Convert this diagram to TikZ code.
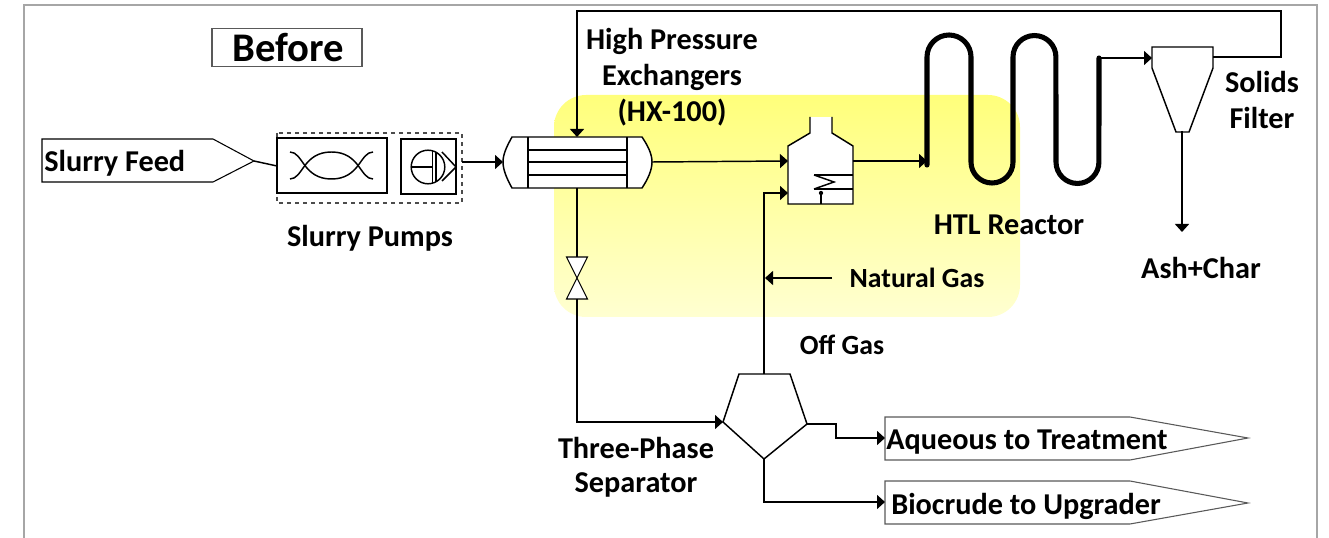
\documentclass[tikz,border=0pt]{standalone}
\usepackage{fontspec}
\setmainfont{Carlito}
\usetikzlibrary{arrows.meta}
\tikzset{
  px/.style={x=0.75pt,y=-0.75pt},
  equip/.style={draw=black,fill=white,line width=1.1pt,line join=miter},
  thinbox/.style={draw=black!65,fill=white,line width=0.8pt},
  stream/.style={draw=black,line width=1.1pt,-{Triangle[length=6pt,width=10.5pt]}},
  plainline/.style={draw=black,line width=1.1pt},
  lbl/.style={font=\fontsize{22.7}{26}\bfseries\selectfont,text=black,inner sep=0pt,align=center},
  lblsmall/.style={lbl,font=\fontsize{20.8}{24}\bfseries\selectfont},
  lblleft/.style={lbl,anchor=west},
  coil/.style={draw=black,line width=3.8pt,line cap=round}
}
\begin{document}
\begin{tikzpicture}[px]
\useasboundingbox (0,0) rectangle (1329,538);
\draw[black!35,line width=1.5pt] (24,538)--(24,5)--(1317,5)--(1317,538);
% highlight
\shade[top color=yellow!52!white,bottom color=yellow!18!white,rounded corners=24pt] (554,95) rectangle (1020,317);

% ports
\coordinate (pumpout) at (462,162);
\coordinate (hxin) at (503,162);
\coordinate (hxtop) at (577,137);
\coordinate (hxbot) at (577,188);
\coordinate (hxout) at (652,162);
\coordinate (fin1) at (788,161);
\coordinate (fin2) at (788,193);
\coordinate (fout) at (853,161);
\coordinate (coilin) at (927,161);
\coordinate (coilout) at (1099,58);
\coordinate (cycin) at (1152,58);
\coordinate (cycgas) at (1213,57);
\coordinate (cycbot) at (1182,131);
\coordinate (ash) at (1182,232);
\coordinate (ventop) at (577,257);
\coordinate (venbot) at (577,299);
\coordinate (sepin) at (723,422);
\coordinate (septop) at (764,374);
\coordinate (sepright) at (807,424);
\coordinate (sepbot) at (764,459);
\coordinate (aqin) at (885,438);
\coordinate (bioin) at (885,502);
\coordinate (ngstart) at (832,278);
\coordinate (ngend) at (765,278);
\coordinate (feedtip) at (254,161);
\coordinate (pumpin) at (277,166);

% title
\node[thinbox,minimum width=112.5pt,minimum height=29pt,inner sep=0pt] (before) at (287,47.5) {};
\node[lbl,font=\fontsize{30.5}{34}\bfseries\selectfont] (beforet) at (288,48) {Before};

% slurry feed
\draw[thinbox,draw=black] (42,139)--(213,139)--(feedtip)--(213,182)--(42,182)--cycle;
\node[lblleft] (feedt) at (44,163.5) {Slurry Feed};
\draw[plainline] (feedtip)--(pumpin);

% pumps
\draw[black!70,dashed,line width=0.8pt] (277,133) rectangle (462,203);
\draw[equip] (277,138) rectangle (387,193);
\draw[plainline] (290,152) .. controls (303,152) and (303,179) .. (331.5,179) .. controls (360,179) and (360,152) .. (373,152);
\draw[plainline] (290,179) .. controls (303,179) and (303,152) .. (331.5,152) .. controls (360,152) and (360,179) .. (373,179);
\draw[equip] (401,139) rectangle (456,194);
\draw[plainline] (428,167) circle[radius=12.6pt];
\draw[plainline] (411,167)--(433,167);
\draw[plainline] (432.5,151)--(432.5,183);
\draw[plainline] (436,152)--(436,182);
\draw[plainline] (442,152)--(456,167)--(442,181);

% exchanger
\draw[equip] (512,137)--(642,137) .. controls (648,146) and (652,154) .. (652,162) .. controls (652,170) and (648,179) .. (642,188)--(512,188) .. controls (507,179) and (503,170) .. (503,162) .. controls (503,154) and (507,146) .. (512,137)--cycle;
\draw[plainline] (528,137)--(528,188);
\draw[plainline] (627,137)--(627,188);
\foreach \yy in {150,162,175}{\draw[plainline] (528,\yy)--(627,\yy);}

% fired heater
\draw[draw=none,fill=white] (810,117) rectangle (832,135);
\draw[draw=none,fill=white] (788,146)--(810,133)--(832,133)--(853,146)--(853,204)--(788,204)--cycle;
\draw[plainline] (810,117)--(810,133)--(788,146)--(788,204)--(853,204)--(853,146)--(832,133)--(832,117);
\draw[plainline] (814,175)--(853,175);
\draw[plainline] (814,189)--(853,189);
\draw[plainline] (814,175)--(834,182)--(814,189);
\draw[plainline] (821,193)--(821,204);
\fill (821,193) circle[radius=1.6pt];

% reactor coil
\draw[coil] (927,165)--(927,57) arc[start angle=180,end angle=0,radius=16.5pt]
  --(971,162) arc[start angle=180,end angle=360,radius=15.75pt]
  --(1013,57) arc[start angle=180,end angle=0,radius=16.1pt]
  --(1056,162) arc[start angle=180,end angle=360,radius=16.1pt]
  --(1099,58);

% cyclone
\draw[equip] (1152,47)--(1213,47)--(1213,68)--(1189,132)--(1176,132)--(1152,68)--cycle;

% valve
\draw[thinbox,draw=black] (566.5,257)--(587.5,257)--(566.5,299)--(587.5,299)--cycle;

% separator
\draw[equip] (739,374)--(790,374)--(sepright)--(sepbot)--(sepin)--cycle;

% outlet tags
\draw[thinbox] (885,417)--(1130,417)--(1248,438)--(1130,460)--(885,460)--cycle;
\draw[thinbox] (885,481)--(1130,481)--(1248,503)--(1130,524)--(885,524)--cycle;

% connectors
\draw[stream] (pumpout)--(hxin);
\draw[stream] (hxout)--(fin1);
\draw[stream] (fout)--(coilin);
\draw[stream] (coilout)--(cycin);
\draw[stream] (cycgas)--(1281,57)--(1281,11)--(577,11)--(hxtop);
\draw[stream] (cycbot)--(ash);
\draw[plainline] (hxbot)--(ventop);
\draw[stream] (venbot)--(577,422)--(sepin);
\draw[stream] (septop)--(764,193)--(fin2);
\draw[stream] (ngstart)--(ngend);
\draw[stream] (sepright)--(836,424)--(836,438)--(aqin);
\draw[stream] (sepbot)--(764,502)--(bioin);

% labels
\node[lbl] (hxl1) at (672,41) {High Pressure};
\node[lbl] (hxl2) at (672,77) {Exchangers};
\node[lbl] (hxl3) at (672,113) {(HX-100)};
\node[lbl] (pumpsl) at (370,238) {Slurry Pumps};
\node[lbl] (htl) at (1009,225) {HTL Reactor};
\node[lblsmall] (ngl) at (917,278) {Natural Gas};
\node[lblsmall] (ogl) at (842,345) {Off Gas};
\node[lbl] (ashl) at (1201,268) {Ash+Char};
\node[lbl] (sol1) at (1262,82) {Solids};
\node[lbl] (sol2) at (1262,118) {Filter};
\node[lbl] (sep1) at (636,448) {Three-Phase};
\node[lbl] (sep2) at (636,485) {Separator};
\node[lblleft] (aqt) at (886,442) {Aqueous to Treatment};
\node[lblleft] (biot) at (891,506) {Biocrude to Upgrader};
\end{tikzpicture}
\end{document}
